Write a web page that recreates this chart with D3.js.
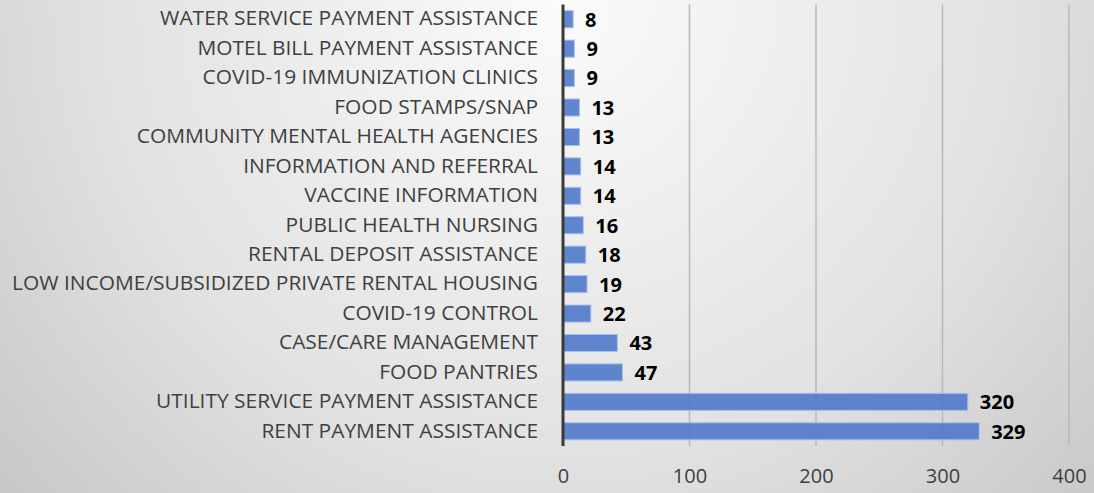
<!DOCTYPE html>
<html>
<head>
<meta charset="utf-8">
<script src="https://cdn.jsdelivr.net/npm/d3@7"></script>
<style>
  html, body { margin: 0; padding: 0; }
  body { width: 1094px; height: 493px; overflow: hidden; }
  svg { display: block; }
</style>
</head>
<body>
<div id="chart"></div>
<script>
const categories = [
    'WATER SERVICE PAYMENT ASSISTANCE',
    'MOTEL BILL PAYMENT ASSISTANCE',
    'COVID-19 IMMUNIZATION CLINICS',
    'FOOD STAMPS/SNAP',
    'COMMUNITY MENTAL HEALTH AGENCIES',
    'INFORMATION AND REFERRAL',
    'VACCINE INFORMATION',
    'PUBLIC HEALTH NURSING',
    'RENTAL DEPOSIT ASSISTANCE',
    'LOW INCOME/SUBSIDIZED PRIVATE RENTAL HOUSING',
    'COVID-19 CONTROL',
    'CASE/CARE MANAGEMENT',
    'FOOD PANTRIES',
    'UTILITY SERVICE PAYMENT ASSISTANCE',
    'RENT PAYMENT ASSISTANCE'
];
const counts = [8, 9, 9, 13, 13, 14, 14, 16, 18, 19, 22, 43, 47, 320, 329];
const xTicks = [0, 100, 200, 300, 400];

const width = 1094, height = 493;
const plotLeft = 563, plotRight = 1069, plotTop = 4.5, plotBottom = 446;
const font = "'Open Sans', sans-serif";

const svg = d3.select('#chart').append('svg').attr('width', width).attr('height', height);

// background gradient
const grad = svg.append('defs').append('radialGradient').attr('id', 'bg')
    .attr('gradientUnits', 'userSpaceOnUse')
    .attr('cx', 560).attr('cy', 0).attr('r', 760);
grad.append('stop').attr('offset', '0%').attr('stop-color', '#fbfbfb');
grad.append('stop').attr('offset', '60%').attr('stop-color', '#e2e2e2');
grad.append('stop').attr('offset', '100%').attr('stop-color', '#c6c6c6');
svg.append('rect').attr('width', width).attr('height', height).attr('fill', 'url(#bg)');

const x = d3.scaleLinear().domain([0, 400]).range([plotLeft, plotRight]);
const y = d3.scaleBand().domain(categories).range([plotTop, plotBottom]).paddingInner(0.42).paddingOuter(0.21);

// gridlines
svg.append('g').selectAll('line').data(xTicks.slice(1)).enter().append('line')
    .attr('x1', d => x(d)).attr('x2', d => x(d))
    .attr('y1', plotTop).attr('y2', plotBottom)
    .attr('stroke', '#b8b8b8').attr('stroke-width', 1.5);

// bars
svg.append('g').selectAll('rect').data(counts).enter().append('rect')
    .attr('x', x(0))
    .attr('y', (d, i) => y(categories[i]))
    .attr('width', d => x(d) - x(0))
    .attr('height', y.bandwidth())
    .attr('fill', '#4a76c8').attr('fill-opacity', 0.88)
    .attr('stroke', '#a9c0ea').attr('stroke-width', 1);

// value labels
svg.append('g').selectAll('text').data(counts).enter().append('text')
    .attr('x', d => x(d) + 12)
    .attr('y', (d, i) => y(categories[i]) + y.bandwidth() / 2)
    .attr('dy', '0.37em')
    .style('font-family', font).style('font-size', '20px').style('font-weight', 'bold')
    .attr('fill', '#000')
    .text(d => d);

// category axis
const yAxis = svg.append('g').attr('transform', `translate(${plotLeft}, 0)`)
    .call(d3.axisLeft(y).tickSize(0).tickPadding(25));
yAxis.select('.domain').remove();
yAxis.selectAll('text')
    .style('font-family', font).style('font-size', '19.5px')
    .attr('fill', '#404040');

// the source text is a bit wider than Open Sans: stretch so the longest label spans ~526px
const longest = d3.max(yAxis.selectAll('text').nodes(), n => n.getComputedTextLength());
if (longest > 0) {
    const sx = 526 / longest;
    yAxis.selectAll('text').attr('x', -25 / sx).attr('transform', `scale(${sx},1)`);
}

svg.append('line').attr('x1', plotLeft).attr('x2', plotLeft).attr('y1', plotTop).attr('y2', plotBottom)
    .attr('stroke', '#3a3a3a').attr('stroke-width', 3);

// value axis
const xAxis = svg.append('g').attr('transform', `translate(0, ${plotBottom})`)
    .call(d3.axisBottom(x).tickValues(xTicks).tickSize(0).tickPadding(23));
xAxis.select('.domain').remove();
xAxis.selectAll('text')
    .style('font-family', font).style('font-size', '20px')
    .attr('fill', '#404040');
</script>
</body>
</html>
